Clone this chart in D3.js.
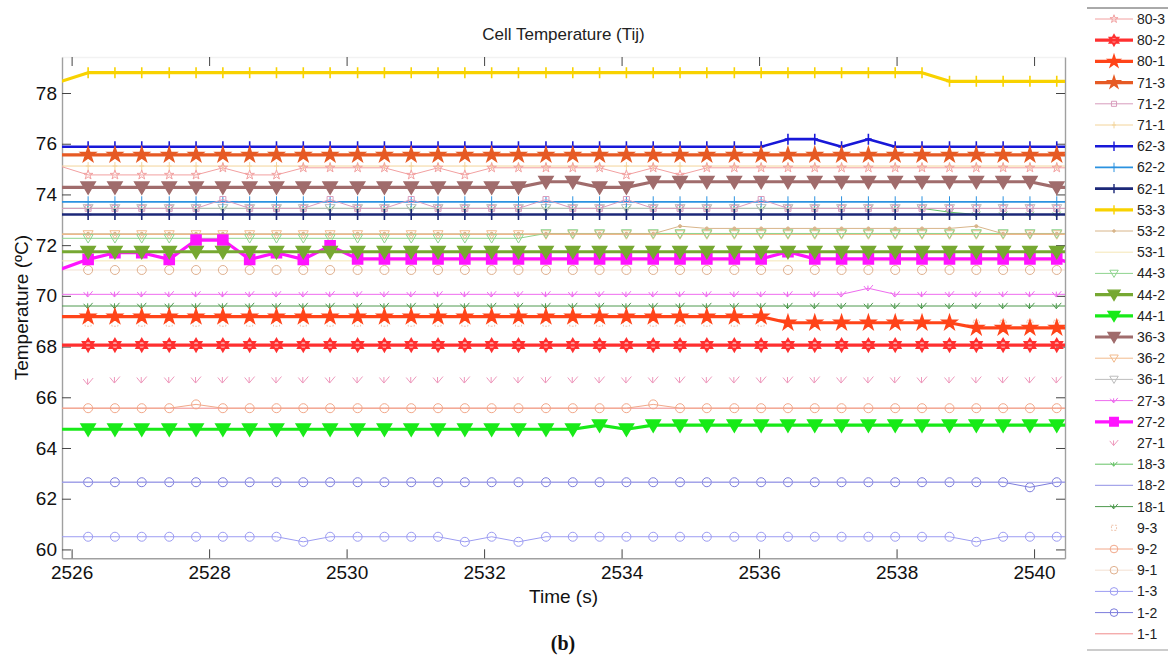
<!DOCTYPE html>
<html><head><meta charset="utf-8">
<script src="https://cdn.jsdelivr.net/npm/d3@7/dist/d3.min.js"></script>
<style>
html,body{margin:0;padding:0;background:#fff;}
svg{display:block;font-family:"Liberation Sans",Arial,sans-serif;}
</style></head><body>
<svg id="chart" width="1168" height="668"></svg>
<script>
// ---------- DATA ----------
const times = [2525.85,2526.24,2526.63,2527.02,2527.42,2527.81,2528.20,2528.59,2528.98,2529.37,
  2529.76,2530.16,2530.55,2530.94,2531.33,2531.72,2532.11,2532.50,2532.90,2533.29,
  2533.68,2534.07,2534.46,2534.85,2535.24,2535.64,2536.03,2536.42,2536.81,2537.20,
  2537.59,2537.98,2538.37,2538.77,2539.16,2539.55,2539.94,2540.33,2540.72];
const xTickValues = [2526,2528,2530,2532,2534,2536,2538,2540];
const yTickValues = [60,62,64,66,68,70,72,74,76,78];
const seriesNames = ["80-3","80-2","80-1","71-3","71-2","71-1","62-3","62-2","62-1","53-3",
  "53-2","53-1","44-3","44-2","44-1","36-3","36-2","36-1","27-3","27-2",
  "27-1","18-3","18-2","18-1","9-3","9-2","9-1","1-3","1-2","1-1"];

const v80_3 = [75.10,74.77,74.77,74.77,74.77,74.77,75.05,74.77,74.77,75.05,
  75.05,75.05,75.05,74.77,75.05,74.77,75.05,75.05,75.05,75.05,
  75.05,74.77,75.05,74.77,75.05,75.05,75.05,75.05,75.05,75.05,
  75.05,75.05,75.05,75.05,75.05,75.05,75.05,75.05,75.05];
const v80_2 = [68.06,68.06,68.06,68.06,68.06,68.06,68.06,68.06,68.06,68.06,
  68.06,68.06,68.06,68.06,68.06,68.06,68.06,68.06,68.06,68.06,
  68.06,68.06,68.06,68.06,68.06,68.06,68.06,68.06,68.06,68.06,
  68.06,68.06,68.06,68.06,68.06,68.06,68.06,68.06,68.06];
const v80_1 = [69.18,69.18,69.18,69.18,69.18,69.18,69.18,69.18,69.18,69.18,
  69.18,69.18,69.18,69.18,69.18,69.18,69.18,69.18,69.18,69.18,
  69.18,69.18,69.18,69.18,69.18,69.18,69.18,68.94,68.94,68.94,
  68.94,68.94,68.94,68.94,68.74,68.74,68.74,68.74,68.74];
const v71_3 = [75.56,75.56,75.56,75.56,75.56,75.56,75.56,75.56,75.56,75.56,
  75.56,75.56,75.56,75.56,75.56,75.56,75.56,75.56,75.56,75.56,
  75.56,75.56,75.56,75.56,75.56,75.56,75.56,75.56,75.56,75.56,
  75.56,75.56,75.56,75.56,75.56,75.56,75.56,75.56,75.56];
const v71_2 = [73.45,73.45,73.45,73.45,73.45,73.45,73.80,73.45,73.45,73.45,
  73.80,73.45,73.45,73.80,73.45,73.45,73.45,73.45,73.80,73.45,
  73.45,73.80,73.45,73.45,73.45,73.45,73.80,73.45,73.45,73.45,
  73.45,73.45,73.45,73.45,73.45,73.45,73.45,73.45,73.45];
const v71_1 = [75.12,75.12,75.12,75.12,75.12,75.12,75.12,75.12,75.12,75.12,
  75.12,75.12,75.12,75.12,75.12,75.12,75.12,75.12,75.12,75.12,
  75.12,75.12,75.12,75.12,75.12,75.12,75.12,75.12,75.12,75.12,
  75.12,75.12,75.12,75.12,75.12,75.12,75.12,75.12,75.12];
const v62_3 = [75.88,75.88,75.88,75.88,75.88,75.88,75.88,75.88,75.88,75.88,
  75.88,75.88,75.88,75.88,75.88,75.88,75.88,75.88,75.88,75.88,
  75.88,75.88,75.88,75.88,75.88,75.88,75.88,76.18,76.18,75.88,
  76.18,75.88,75.88,75.88,75.88,75.88,75.88,75.88,75.88];
const v62_2 = [73.71,73.71,73.71,73.71,73.71,73.71,73.71,73.71,73.71,73.71,
  73.71,73.71,73.71,73.71,73.71,73.71,73.71,73.71,73.71,73.71,
  73.71,73.71,73.71,73.71,73.71,73.71,73.71,73.71,73.71,73.71,
  73.71,73.71,73.71,73.71,73.71,73.71,73.71,73.71,73.71];
const v62_1 = [73.21,73.21,73.21,73.21,73.21,73.21,73.21,73.21,73.21,73.21,
  73.21,73.21,73.21,73.21,73.21,73.21,73.21,73.21,73.21,73.21,
  73.21,73.21,73.21,73.21,73.21,73.21,73.21,73.21,73.21,73.21,
  73.21,73.21,73.21,73.21,73.21,73.21,73.21,73.21,73.21];
const v53_3 = [78.46,78.80,78.80,78.80,78.80,78.80,78.80,78.80,78.80,78.80,
  78.80,78.80,78.80,78.80,78.80,78.80,78.80,78.80,78.80,78.80,
  78.80,78.80,78.80,78.80,78.80,78.80,78.80,78.80,78.80,78.80,
  78.80,78.80,78.80,78.46,78.46,78.46,78.46,78.46,78.46];
const v53_2 = [72.45,72.45,72.45,72.45,72.45,72.45,72.45,72.45,72.45,72.45,
  72.45,72.45,72.45,72.45,72.45,72.45,72.45,72.45,72.45,72.45,
  72.45,72.45,72.45,72.75,72.66,72.66,72.66,72.66,72.66,72.66,
  72.66,72.66,72.66,72.66,72.75,72.45,72.45,72.45,72.45];
const v53_1 = [71.38,71.38,71.38,71.38,71.38,71.38,71.38,71.38,71.38,71.38,
  71.38,71.38,71.38,71.38,71.38,71.38,71.38,71.38,71.38,71.38,
  71.38,71.38,71.38,71.38,71.38,71.38,71.38,71.38,71.38,71.38,
  71.38,71.38,71.38,71.38,71.38,71.38,71.38,71.38,71.38];
const v44_3 = [72.27,72.27,72.27,72.27,72.27,72.27,72.27,72.27,72.27,72.27,
  72.27,72.27,72.27,72.27,72.27,72.27,72.27,72.27,72.46,72.46,
  72.46,72.46,72.46,72.46,72.46,72.46,72.46,72.46,72.46,72.46,
  72.46,72.46,72.46,72.46,72.46,72.46,72.46,72.46,72.46];
const v44_2 = [71.74,71.74,71.74,71.74,71.74,71.74,71.74,71.74,71.74,71.74,
  71.74,71.74,71.74,71.74,71.74,71.74,71.74,71.74,71.74,71.74,
  71.74,71.74,71.74,71.74,71.74,71.74,71.74,71.74,71.74,71.74,
  71.74,71.74,71.74,71.74,71.74,71.74,71.74,71.74,71.74];
const v44_1 = [64.74,64.74,64.74,64.74,64.74,64.74,64.74,64.74,64.74,64.74,
  64.74,64.74,64.74,64.74,64.74,64.74,64.74,64.74,64.74,64.74,
  64.90,64.74,64.90,64.90,64.90,64.90,64.90,64.90,64.90,64.90,
  64.90,64.90,64.90,64.90,64.90,64.90,64.90,64.90,64.90];
const v36_3 = [74.28,74.28,74.28,74.28,74.28,74.28,74.28,74.28,74.28,74.28,
  74.28,74.28,74.28,74.28,74.28,74.28,74.28,74.28,74.50,74.50,
  74.28,74.28,74.50,74.50,74.50,74.50,74.50,74.50,74.50,74.50,
  74.50,74.50,74.50,74.50,74.50,74.50,74.50,74.28,74.28];
const v36_2 = [72.42,72.42,72.42,72.42,72.42,72.42,72.42,72.42,72.42,72.42,
  72.42,72.42,72.42,72.42,72.42,72.42,72.42,72.42,72.42,72.42,
  72.42,72.42,72.42,72.42,72.42,72.42,72.42,72.42,72.42,72.42,
  72.42,72.42,72.42,72.42,72.42,72.42,72.42,72.42,72.42];
const v36_1 = [73.45,73.45,73.45,73.45,73.45,73.45,73.45,73.45,73.45,73.45,
  73.45,73.45,73.45,73.45,73.45,73.45,73.45,73.45,73.45,73.45,
  73.45,73.45,73.45,73.45,73.45,73.45,73.45,73.45,73.45,73.45,
  73.45,73.45,73.45,73.45,73.45,73.45,73.45,73.45,73.45];
const v27_3 = [70.06,70.06,70.06,70.06,70.06,70.06,70.06,70.06,70.06,70.06,
  70.06,70.06,70.06,70.06,70.06,70.06,70.06,70.06,70.06,70.06,
  70.06,70.06,70.06,70.06,70.06,70.06,70.06,70.06,70.06,70.06,
  70.30,70.06,70.06,70.06,70.06,70.06,70.06,70.06,70.06];
const v27_2 = [71.06,71.44,71.70,71.70,71.44,72.20,72.20,71.44,71.70,71.44,
  71.97,71.46,71.46,71.46,71.46,71.46,71.46,71.46,71.46,71.46,
  71.46,71.46,71.46,71.46,71.46,71.46,71.46,71.74,71.46,71.46,
  71.46,71.46,71.46,71.46,71.46,71.46,71.46,71.46,71.15];
const v27_1 = [66.68,66.62,66.68,66.68,66.68,66.68,66.68,66.68,66.68,66.68,
  66.68,66.68,66.68,66.68,66.68,66.68,66.68,66.68,66.68,66.68,
  66.68,66.68,66.68,66.68,66.68,66.68,66.68,66.68,66.68,66.68,
  66.68,66.68,66.68,66.68,66.68,66.68,66.68,66.68,66.68];
const v18_3 = [73.45,73.45,73.45,73.45,73.45,73.45,73.45,73.45,73.45,73.45,
  73.45,73.45,73.45,73.45,73.45,73.45,73.45,73.45,73.45,73.45,
  73.45,73.45,73.45,73.45,73.45,73.45,73.45,73.45,73.45,73.45,
  73.45,73.45,73.45,73.30,73.21,73.21,73.21,73.21,73.21];
const v18_2 = [62.65,62.65,62.65,62.65,62.65,62.65,62.65,62.65,62.65,62.65,
  62.65,62.65,62.65,62.65,62.65,62.65,62.65,62.65,62.65,62.65,
  62.65,62.65,62.65,62.65,62.65,62.65,62.65,62.65,62.65,62.65,
  62.65,62.65,62.65,62.65,62.65,62.65,62.65,62.65,62.65];
const v18_1 = [69.60,69.60,69.60,69.60,69.60,69.60,69.60,69.60,69.60,69.60,
  69.60,69.60,69.60,69.60,69.60,69.60,69.60,69.60,69.60,69.60,
  69.60,69.60,69.60,69.60,69.60,69.60,69.60,69.60,69.60,69.60,
  69.60,69.60,69.60,69.60,69.60,69.60,69.60,69.60,69.60];
const v9_3 = [68.92,68.92,68.92,68.92,68.92,68.92,68.92,68.92,68.92,68.92,
  68.92,68.92,68.92,68.92,68.92,68.92,68.92,68.92,68.92,68.92,
  68.92,68.92,68.92,68.92,68.92,68.92,68.92,68.92,68.92,68.92,
  68.92,68.92,68.92,68.92,68.92,68.92,68.92,68.92,68.92];
const v9_2 = [65.57,65.57,65.57,65.57,65.57,65.72,65.57,65.57,65.57,65.57,
  65.57,65.57,65.57,65.57,65.57,65.57,65.57,65.57,65.57,65.57,
  65.57,65.57,65.72,65.57,65.57,65.57,65.57,65.57,65.57,65.57,
  65.57,65.57,65.57,65.57,65.57,65.57,65.57,65.57,65.57];
const v9_1 = [71.02,71.02,71.02,71.02,71.02,71.02,71.02,71.02,71.02,71.02,
  71.02,71.02,71.02,71.02,71.02,71.02,71.02,71.02,71.02,71.02,
  71.02,71.02,71.02,71.02,71.02,71.02,71.02,71.02,71.02,71.02,
  71.02,71.02,71.02,71.02,71.02,71.02,71.02,71.02,71.02];
const v1_3 = [60.50,60.50,60.50,60.50,60.50,60.50,60.50,60.50,60.50,60.30,
  60.50,60.50,60.50,60.50,60.50,60.30,60.50,60.30,60.50,60.50,
  60.50,60.50,60.50,60.50,60.50,60.50,60.50,60.50,60.50,60.50,
  60.50,60.50,60.50,60.50,60.30,60.50,60.50,60.50,60.50];
const v1_2 = [62.65,62.65,62.65,62.65,62.65,62.65,62.65,62.65,62.65,62.65,
  62.65,62.65,62.65,62.65,62.65,62.65,62.65,62.65,62.65,62.65,
  62.65,62.65,62.65,62.65,62.65,62.65,62.65,62.65,62.65,62.65,
  62.65,62.65,62.65,62.65,62.65,62.65,62.45,62.65,62.65];
const v1_1 = [65.57,65.57,65.57,65.57,65.57,65.57,65.57,65.57,65.57,65.57,
  65.57,65.57,65.57,65.57,65.57,65.57,65.57,65.57,65.57,65.57,
  65.57,65.57,65.57,65.57,65.57,65.57,65.57,65.57,65.57,65.57,
  65.57,65.57,65.57,65.57,65.57,65.57,65.57,65.57,65.57];

const seriesValues = [v80_3,v80_2,v80_1,v71_3,v71_2,v71_1,v62_3,v62_2,v62_1,v53_3,
  v53_2,v53_1,v44_3,v44_2,v44_1,v36_3,v36_2,v36_1,v27_3,v27_2,
  v27_1,v18_3,v18_2,v18_1,v9_3,v9_2,v9_1,v1_3,v1_2,v1_1];

// ---------- STYLES (separate from data) ----------
// c: colour, w: line width (0 = no line), m: marker, s: marker size, f: marker fill
const styles = [
  {c:"#f2a0a0", w:1,   m:"star",  s:10, f:"none"},
  {c:"#ff3030", w:3.2, m:"hexa",  s:13, f:"#ff3030"},
  {c:"#ff4419", w:3.2, m:"star",  s:15, f:"#ff4419"},
  {c:"#e65a24", w:3.2, m:"star",  s:15, f:"#e65a24"},
  {c:"#d89cbc", w:1,   m:"square",s:6,  f:"none"},
  {c:"#f3d49a", w:1,   m:"plus",  s:8,  f:"none"},
  {c:"#1818d8", w:2.6, m:"plus",  s:11, f:"none"},
  {c:"#2b92e0", w:1.8, m:"plus",  s:11, f:"none"},
  {c:"#1c2878", w:2.6, m:"plus",  s:11, f:"none"},
  {c:"#f8d200", w:3.2, m:"plus",  s:11, f:"none"},
  {c:"#d8b58a", w:1,   m:"dot",   s:3,  f:"#d8b58a"},
  {c:"#f5e6b6", w:1,   m:"none",  s:0,  f:"none"},
  {c:"#8ed48e", w:1,   m:"tri",   s:10, f:"none"},
  {c:"#76a832", w:3.2, m:"tri",   s:14, f:"#76a832"},
  {c:"#18ea18", w:3.2, m:"tri",   s:14, f:"#18ea18"},
  {c:"#a06c6c", w:3.2, m:"tri",   s:14, f:"#a06c6c"},
  {c:"#f2ba8c", w:1,   m:"tri",   s:10, f:"none"},
  {c:"#bdbdbd", w:1,   m:"tri",   s:10, f:"none"},
  {c:"#ee6cee", w:1,   m:"check", s:9,  f:"none"},
  {c:"#ff14ff", w:3.2, m:"square",s:10, f:"#ff14ff"},
  {c:"#ee98bc", w:0,   m:"check", s:10, f:"none"},
  {c:"#66c266", w:1,   m:"check", s:8,  f:"none"},
  {c:"#a6a6ea", w:1.2, m:"none",  s:0,  f:"none"},
  {c:"#4f9a4f", w:1,   m:"check", s:9,  f:"none"},
  {c:"#efc4ac", w:0,   m:"square",s:6,  f:"none"},
  {c:"#f2a88a", w:1,   m:"circle",s:9,  f:"none"},
  {c:"#e0b08e", w:0.4, m:"circle",s:9,  f:"none"},
  {c:"#9c9cf2", w:1,   m:"circle",s:9,  f:"none"},
  {c:"#7c7cdc", w:1,   m:"circle",s:9,  f:"none"},
  {c:"#f08a8a", w:1,   m:"none",  s:0,  f:"none"}
];

// ---------- LAYOUT ----------
const svg = d3.select("#chart");
const L = 62, R = 1065, T = 57, B = 558.3;
const x = d3.scaleLinear().domain([2525.86, 2540.45]).range([L, R]);
const y = d3.scaleLinear().domain([59.65, 79.42]).range([B, T]);

function markerPath(m, s) {
  const r = s / 2;
  switch (m) {
    case "star": return d3.symbol(d3.symbolStar, (r * r) / 0.8908)();
    case "tri": return `M${-r},${-r*0.75}L${r},${-r*0.75}L0,${r*0.95}Z`;
    case "square": return `M${-r},${-r}H${r}V${r}H${-r}Z`;
    case "circle": return d3.symbol(d3.symbolCircle, Math.PI * r * r)();
    case "dot": return d3.symbol(d3.symbolCircle, Math.PI * r * r)();
    case "plus": return `M${-r*0.6},0H${r*0.6}M0,${-r}V${r}`;
    case "check": return `M${-r},${-r*0.5}L${-r*0.1},${r*0.6}L${r},${-r*0.7}M${-r*0.1},${r*0.6}V${-r*0.6}`;
    case "hexa": {
      const a = r, h = r * 0.5;
      return `M0,${-a}L${a*0.866},${h}L${-a*0.866},${h}Z M0,${a}L${a*0.866},${-h}L${-a*0.866},${-h}Z`;
    }
  }
  return "";
}

svg.append("defs").append("clipPath").attr("id", "plotclip")
  .append("rect").attr("x", L).attr("y", T).attr("width", R - L).attr("height", B - T);

// Title and labels
svg.append("text").attr("x", (L + R) / 2).attr("y", 40).attr("text-anchor", "middle")
  .attr("font-size", 17).attr("fill", "#222").text("Cell Temperature (Tij)");
svg.append("text").attr("x", (L + R) / 2).attr("y", 603).attr("text-anchor", "middle")
  .attr("font-size", 19).attr("fill", "#111").text("Time (s)");
svg.append("text").attr("transform", `translate(28,${(T + B) / 2}) rotate(-90)`)
  .attr("text-anchor", "middle").attr("font-size", 19).attr("fill", "#111").text("Temperature (ºC)");
svg.append("text").attr("x", 563).attr("y", 650).attr("text-anchor", "middle")
  .attr("font-family", "'Liberation Serif','Times New Roman',serif").attr("font-weight", "bold")
  .attr("font-size", 20).attr("fill", "#111").text("(b)");

// Axes
const gx = svg.append("g").attr("transform", `translate(0,${B})`)
  .call(d3.axisBottom(x).tickValues(xTickValues).tickFormat(d3.format("d")).tickSizeInner(-9).tickSizeOuter(0).tickPadding(7));
const gxTop = svg.append("g").attr("transform", `translate(0,${T})`)
  .call(d3.axisTop(x).tickValues(xTickValues).tickFormat("").tickSizeInner(-9).tickSizeOuter(0));
const gy = svg.append("g").attr("transform", `translate(${L},0)`)
  .call(d3.axisLeft(y).tickValues(yTickValues).tickFormat(d3.format("d")).tickSizeInner(-9).tickSizeOuter(0).tickPadding(5));
const gyR = svg.append("g").attr("transform", `translate(${R},0)`)
  .call(d3.axisRight(y).tickValues(yTickValues).tickFormat("").tickSizeInner(-9).tickSizeOuter(0));
[gx, gxTop, gy, gyR].forEach(g => {
  g.select(".domain").attr("stroke", "#a0a0a0").attr("stroke-width", 1.4);
  g.selectAll(".tick line").attr("stroke", "#444").attr("stroke-width", 1);
  g.selectAll(".tick text").attr("font-size", 19).attr("fill", "#111")
    .attr("font-family", "'Liberation Sans',Arial,sans-serif");
});
gxTop.select(".domain").attr("stroke", "#f2f2f2");

// Series
const plot = svg.append("g").attr("clip-path", "url(#plotclip)");
const line = d3.line().x((d, i) => x(times[i])).y(d => y(d));
const order = d3.range(seriesNames.length).sort((a, b) => (styles[a].w >= 2 ? 1 : 0) - (styles[b].w >= 2 ? 1 : 0) || b - a);
order.forEach(i => {
  const st = styles[i], vals = seriesValues[i];
  const g = plot.append("g");
  if (st.w > 0) {
    g.append("path").attr("d", line(vals)).attr("fill", "none")
      .attr("stroke", st.c).attr("stroke-width", st.w).attr("stroke-linejoin", "round");
  }
  if (st.m !== "none") {
    const pts = vals.map((v, k) => [times[k], v]).filter(p => p[0] >= x.domain()[0] && p[0] <= x.domain()[1]);
    g.selectAll("path.mk").data(pts).join("path").attr("class", "mk")
      .attr("transform", p => `translate(${x(p[0])},${y(p[1])})`)
      .attr("d", markerPath(st.m, st.s))
      .attr("fill", st.f).attr("stroke", st.c)
      .attr("stroke-width", st.w >= 2 ? 1.6 : 1)
      .attr("stroke-dasharray", i === 24 ? "2,1.5" : null);
  }
});

// Legend
const lg = svg.append("g");
const lgTop = 8, lgBottom = 650, lgY0 = 19, lgStep = 21.2;
lg.append("line").attr("x1", 1087).attr("x2", 1168).attr("y1", lgTop).attr("y2", lgTop).attr("stroke", "#555").attr("stroke-width", 1);
lg.append("line").attr("x1", 1087).attr("x2", 1168).attr("y1", lgBottom).attr("y2", lgBottom).attr("stroke", "#999").attr("stroke-width", 1);
seriesNames.forEach((name, i) => {
  const st = styles[i];
  const yy = lgY0 + i * lgStep;
  if (st.w > 0) lg.append("line").attr("x1", 1095).attr("x2", 1133).attr("y1", yy).attr("y2", yy)
    .attr("stroke", st.c).attr("stroke-width", st.w);
  if (st.m !== "none") lg.append("path").attr("transform", `translate(1114,${yy})`)
    .attr("d", markerPath(st.m, st.s * 0.85)).attr("fill", st.f).attr("stroke", st.c)
    .attr("stroke-width", st.w >= 2 ? 1.4 : 1)
    .attr("stroke-dasharray", i === 24 ? "2,1.5" : null);
  lg.append("text").attr("x", 1137).attr("y", yy).attr("dy", "0.36em")
    .attr("font-size", 14).attr("fill", "#222").text(name);
});
</script>
</body></html>
